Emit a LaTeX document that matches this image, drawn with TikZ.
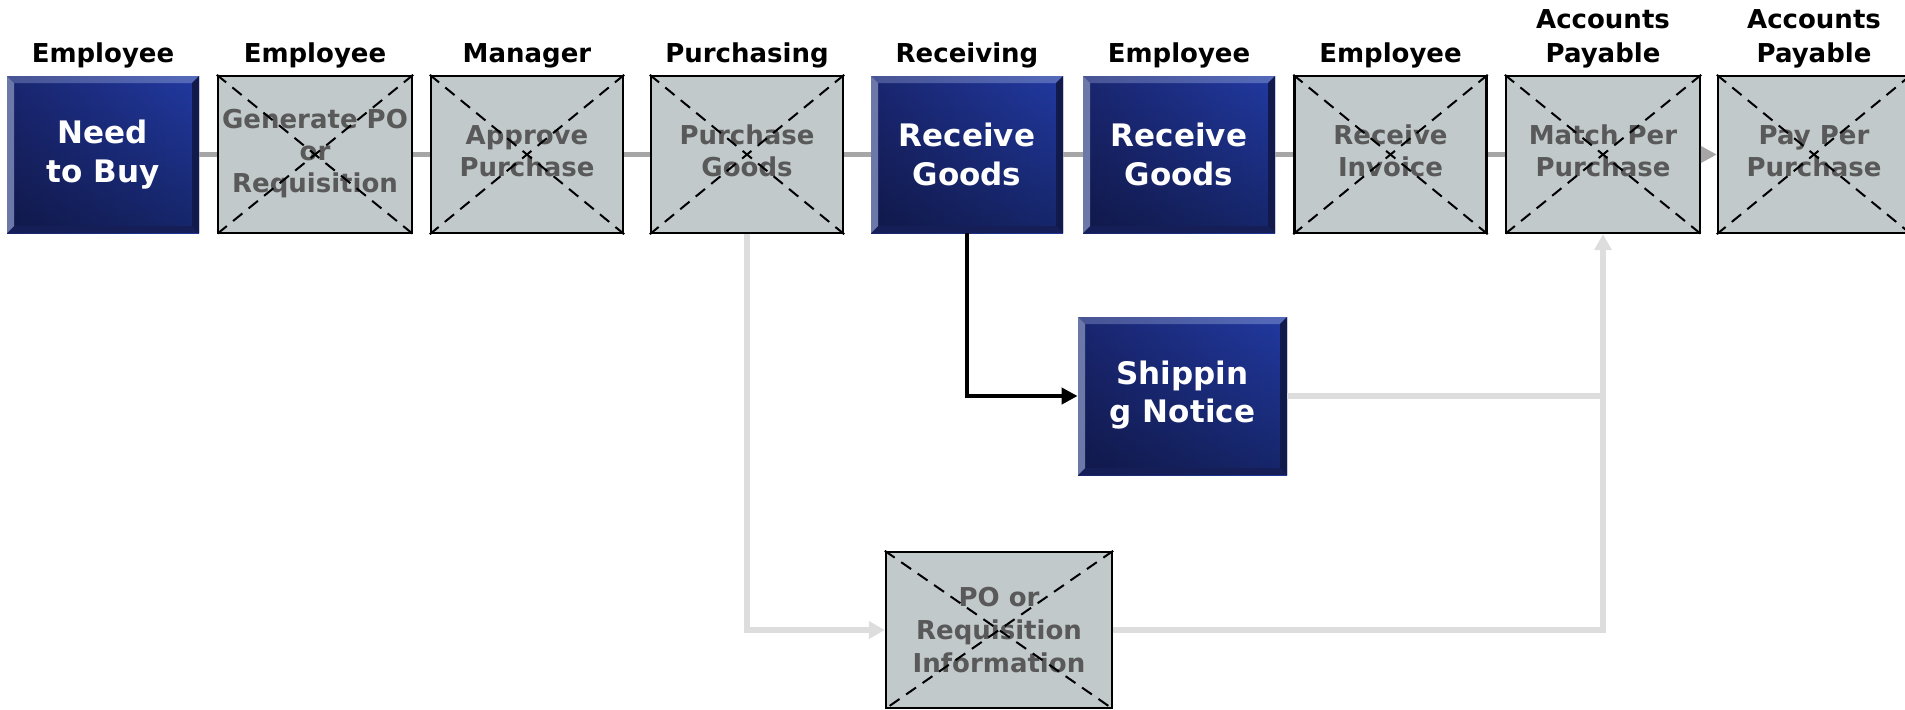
\documentclass[tikz,border=0pt]{standalone}
\usepackage{fontspec}
\setmainfont{DejaVu Sans}
\usetikzlibrary{arrows.meta,fadings}
\definecolor{grayfill}{RGB}{193,201,203}
\definecolor{graytext}{RGB}{89,89,89}
\definecolor{topline}{RGB}{166,166,166}
\definecolor{lightline}{RGB}{221,221,221}
\definecolor{blueL}{RGB}{26,38,112}
\definecolor{blueR}{RGB}{34,58,162}
\definecolor{bevTL}{RGB}{72,84,148}
\definecolor{bevTR}{RGB}{84,106,186}
\definecolor{bevL}{RGB}{108,120,168}
\definecolor{bevB}{RGB}{22,30,88}
\definecolor{bevR}{RGB}{18,26,76}
\tikzfading[name=fadeup, top color=transparent!100, bottom color=transparent!0]
\newcommand\shiftedtext[2]{\raisebox{#1}{\begin{tabular}{@{}c@{}}#2\end{tabular}}}
\tikzset{
  hdr/.style={font=\fontsize{13}{17}\selectfont\bfseries, align=center, anchor=south, inner sep=0pt},
  bluebox/.style={inner sep=0pt, text=white, align=center,
    font=\fontsize{15.5}{19.5}\selectfont\bfseries,
    minimum width=96pt, minimum height=78.5pt,
    left color=blueL, right color=blueR,
    path picture={
      \fill[black, opacity=0.35, path fading=fadeup]
        (path picture bounding box.south west) rectangle (path picture bounding box.north east);
      \shade[left color=bevTL, right color=bevTR]
        (path picture bounding box.north west) -- (path picture bounding box.north east)
        -- ([shift={(-3.5pt,-3.5pt)}]path picture bounding box.north east)
        -- ([shift={(3.5pt,-3.5pt)}]path picture bounding box.north west) -- cycle;
      \fill[bevB]
        (path picture bounding box.south west) -- (path picture bounding box.south east)
        -- ([shift={(-3.5pt,3.5pt)}]path picture bounding box.south east)
        -- ([shift={(3.5pt,3.5pt)}]path picture bounding box.south west) -- cycle;
      \fill[bevL]
        (path picture bounding box.north west) -- ([shift={(3.5pt,-3.5pt)}]path picture bounding box.north west)
        -- ([shift={(3.5pt,3.5pt)}]path picture bounding box.south west)
        -- (path picture bounding box.south west) -- cycle;
      \fill[bevR]
        (path picture bounding box.north east) -- ([shift={(-3.5pt,-3.5pt)}]path picture bounding box.north east)
        -- ([shift={(-3.5pt,3.5pt)}]path picture bounding box.south east)
        -- (path picture bounding box.south east) -- cycle;
    }},
  graybox/.style={draw=black, line width=1.2pt, fill=grayfill, text=graytext,
    font=\fontsize{13}{16}\selectfont\bfseries, align=center, inner sep=0pt,
    minimum width=96pt, minimum height=78.5pt},
  diag/.style={black, line width=1pt, dash pattern=on 6pt off 4pt},
  flow/.style={topline, line width=2.5pt},
  flowarrow/.style={topline, line width=2.5pt, -{Triangle[length=8pt,width=8pt]}},
  light/.style={lightline, line width=3pt},
  lightarrow/.style={lightline, line width=3pt, -{Triangle[length=8pt,width=8.5pt]}},
  blackarrow/.style={black, line width=2.3pt, -{Triangle[length=8pt,width=8pt]}}
}
\begin{document}
\begin{tikzpicture}[x=0.5pt,y=-0.5pt]
\useasboundingbox (0,0) rectangle (1905,709);

% headers
\node[hdr] (h1) at (103,68.5) {Employee};
\node[hdr] (h2) at (315,68.5) {Employee};
\node[hdr] (h3) at (527,68.5) {Manager};
\node[hdr] (h4) at (747,68.5) {Purchasing};
\node[hdr] (h5) at (967,68.5) {Receiving};
\node[hdr] (h6) at (1179,68.5) {Employee};
\node[hdr] (h7) at (1390.5,68.5) {Employee};
\node[hdr] (h8) at (1603,68.5) {Accounts\\Payable};
\node[hdr] (h9) at (1814,68.5) {Accounts\\Payable};

% top row
\node[bluebox] (need) at (103,154.5) {Need\\to Buy};
\node[graybox, minimum width=97pt] (gen) at (315,154.5) {\shiftedtext{-1.8pt}{Generate PO\\or\\Requisition}};
\node[graybox] (appr) at (527,154.5) {\shiftedtext{2.5pt}{Approve\\Purchase}};
\node[graybox] (purch) at (747,154.5) {\shiftedtext{1.5pt}{Purchase\\Goods}};
\node[bluebox] (rg1) at (967,154.5) {Receive\\Goods};
\node[bluebox] (rg2) at (1179,154.5) {Receive\\Goods};
\node[graybox] (rinv) at (1390.5,154.5) {\shiftedtext{1.5pt}{Receive\\Invoice}};
\node[graybox, minimum width=97pt] (match) at (1603,154.5) {\shiftedtext{1.5pt}{Match Per\\Purchase}};
\node[graybox] (pay) at (1814,154.5) {\shiftedtext{2.5pt}{Pay Per\\Purchase}};

% lower nodes
\node[bluebox, minimum width=104.5pt, minimum height=79pt, font=\fontsize{15.5}{19}\selectfont\bfseries] (ship) at (1182.5,396) {\shiftedtext{-2.5pt}{Shippin\\g Notice}};
\node[graybox, minimum width=113pt, minimum height=78pt, font=\fontsize{13}{16.5}\selectfont\bfseries] (po) at (999,630) {PO or\\Requisition\\Information};

% dashed crosses over placeholder boxes
\foreach \n in {gen,appr,purch,rinv,match,pay,po}{
  \draw[diag] (\n.north west) -- (\n.south east);
  \draw[diag] (\n.north east) -- (\n.south west);
}

% top flow
\draw[flow] (need.east) -- (gen.west);
\draw[flow] (gen.east) -- (appr.west);
\draw[flow] (appr.east) -- (purch.west);
\draw[flow] (purch.east) -- (rg1.west);
\draw[flow] (rg1.east) -- (rg2.west);
\draw[flow] (rg2.east) -- (rinv.west);
\draw[flow] (rinv.east) -- (match.west);
\draw[flowarrow] (match.east) -- (pay.west);

% lower connectors
\draw[blackarrow] (rg1.south) |- (ship.west);
\draw[lightarrow] (purch.south) |- (po.west);
\draw[lightarrow] (po.east) -| (match.south);
\draw[light] (ship.east) -- (ship.east -| match.south);
\end{tikzpicture}
\end{document}
